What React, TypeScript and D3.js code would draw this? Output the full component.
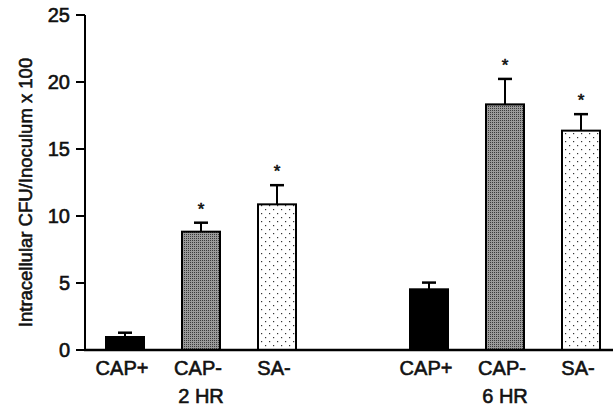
import React from 'react';
import * as d3 from 'd3';

// values
const treatments = ['CAP+', 'CAP-', 'SA-'];
const timepoints = ['2 HR', '6 HR'];
const means2hr = [0.97, 8.83, 10.87];
const errors2hr = [0.32, 0.67, 1.43];
const means6hr = [4.53, 18.33, 16.37];
const errors6hr = [0.5, 1.9, 1.23];
const significant = [false, true, true];
const yTicks = [0, 5, 10, 15, 20, 25];
const yLabel = 'Intracellular CFU/Inoculum x 100';

const width = 613;
const height = 408;
const margin = { top: 15, right: 0, bottom: 58, left: 85 };
const font = '"Liberation Sans", Arial, Helvetica, sans-serif';

type Bar = { slot: number; treat: number; mean: number; err: number; star: boolean };

const bars: Bar[] = [];
[means2hr, means6hr].forEach((means, g) => {
  const errs = g === 0 ? errors2hr : errors6hr;
  means.forEach((m, i) => {
    bars.push({ slot: g * 4 + i, treat: i, mean: m, err: errs[i], star: significant[i] });
  });
});

const fills = ['#000', 'url(#dense)', 'url(#sparse)'];

// slightly heavier text, like the scanned print
const textStyle = { fontFamily: font, fill: '#111', stroke: '#111', strokeWidth: 0.6 };

export default function App() {
  const x = d3.scaleBand<number>()
    .domain(d3.range(7))
    .range([margin.left + 2, margin.left + 2 + 7 * 76])
    .paddingInner(0.5)
    .paddingOuter(0.25);

  const y = d3.scaleLinear()
    .domain([0, 25])
    .range([height - margin.bottom, margin.top]);

  const bw = x.bandwidth();
  const cx = (s: number) => (x(s) as number) + bw / 2;

  return (
    <svg width={width} height={height} style={{ position: 'absolute', left: 0, top: 0, background: '#fff' }}>
      <defs>
        <pattern id="dense" width="2" height="2" patternUnits="userSpaceOnUse">
          <rect width="2" height="2" fill="#9a9a9a" />
          <rect width="1" height="1" fill="#3a3a3a" />
        </pattern>
        <pattern id="sparse" width="8" height="8" patternUnits="userSpaceOnUse">
          <rect width="8" height="8" fill="#fff" />
          <rect x="1" y="1" width="1.2" height="1.2" fill="#333" />
          <rect x="5" y="5" width="1.2" height="1.2" fill="#333" />
        </pattern>
      </defs>

      {/* y axis */}
      <line x1={margin.left} x2={margin.left} y1={y(25)} y2={y(0)} stroke="#000" strokeWidth={2} />
      {yTicks.map(t => (
        <g key={t}>
          <line x1={margin.left - 9} x2={margin.left} y1={y(t)} y2={y(t)} stroke="#000" strokeWidth={2} />
          <text x={margin.left - 15} y={y(t)} dy="0.35em" textAnchor="end" fontSize={20} style={textStyle}>{t}</text>
        </g>
      ))}
      <text transform={`translate(32,${(y(0) + y(25)) / 2 + 10}) rotate(-90)`} textAnchor="middle"
        fontSize={18.5} style={textStyle}>{yLabel}</text>

      {/* bars */}
      {bars.map(b => (
        <g key={b.slot}>
          <line x1={cx(b.slot)} x2={cx(b.slot)} y1={y(b.mean)} y2={y(b.mean + b.err)} stroke="#000" strokeWidth={2} />
          <line x1={cx(b.slot) - 7} x2={cx(b.slot) + 7} y1={y(b.mean + b.err)} y2={y(b.mean + b.err)} stroke="#000" strokeWidth={2.5} />
          <rect x={x(b.slot)} y={y(b.mean)} width={bw} height={y(0) - y(b.mean)}
            fill={fills[b.treat]} stroke="#000" strokeWidth={2} />
          {b.star && (
            <text x={cx(b.slot)} y={y(b.mean + b.err) - 8} textAnchor="middle" fontSize={17}
              style={textStyle}>*</text>
          )}
          <text x={cx(b.slot) - 3} y={375} textAnchor="middle" fontSize={20} style={textStyle}>
            {treatments[b.treat]}
          </text>
        </g>
      ))}
      {timepoints.map((tp, g) => (
        <text key={tp} x={cx(g * 4 + 1)} y={403} textAnchor="middle" fontSize={20} style={textStyle}>{tp}</text>
      ))}

      {/* x axis */}
      <line x1={margin.left - 1} x2={width} y1={y(0)} y2={y(0)} stroke="#000" strokeWidth={2.5} />
    </svg>
  );
}
